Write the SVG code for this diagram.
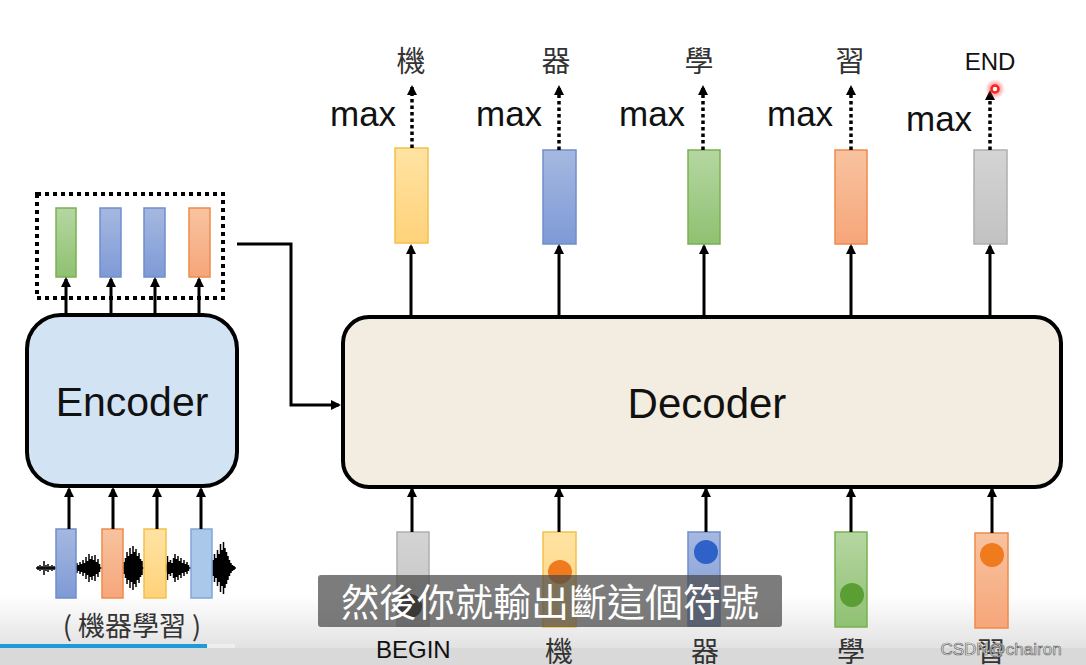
<svg xmlns="http://www.w3.org/2000/svg" width="1086" height="665" viewBox="0 0 1086 665">
<defs>
<style>
.lat{font-family:"Liberation Sans","Noto Sans",Arial,sans-serif;fill:#111}
.cjk{font-family:"Noto Sans CJK TC","Noto Sans CJK SC",sans-serif;fill:#333}
.arr{stroke:#000;stroke-width:3;fill:none;marker-end:url(#ah)}
.dot{stroke:#000;stroke-width:3.5;fill:none;stroke-dasharray:3.5 3;marker-end:url(#ah)}
.y{fill:url(#gy);stroke:#F3C04A;stroke-width:1.5}
.b{fill:url(#gb);stroke:#6F8FCB;stroke-width:1.5}
.lb{fill:#A9C8EA;stroke:#7FA7D9;stroke-width:1.5}
.g{fill:url(#gg);stroke:#78B152;stroke-width:1.5}
.o{fill:url(#go);stroke:#EE8A4E;stroke-width:1.5}
.k{fill:url(#gk);stroke:#AFAFAF;stroke-width:1.5}
</style>
<marker id="ah" viewBox="0 0 10 10" refX="8" refY="5" markerWidth="10" markerHeight="10" markerUnits="userSpaceOnUse" orient="auto">
<path d="M0,0 L10,5 L0,10 z" fill="#000"/>
</marker>
<linearGradient id="gy" x1="0" y1="0" x2="0" y2="1"><stop offset="0" stop-color="#FFE3A3"/><stop offset="1" stop-color="#FFD27A"/></linearGradient>
<linearGradient id="gb" x1="0" y1="0" x2="0" y2="1"><stop offset="0" stop-color="#A6B8E0"/><stop offset="1" stop-color="#7E9AD6"/></linearGradient>
<linearGradient id="gg" x1="0" y1="0" x2="0" y2="1"><stop offset="0" stop-color="#B6D6A2"/><stop offset="1" stop-color="#8FC172"/></linearGradient>
<linearGradient id="go" x1="0" y1="0" x2="0" y2="1"><stop offset="0" stop-color="#F8C3A0"/><stop offset="1" stop-color="#F6A679"/></linearGradient>
<linearGradient id="gk" x1="0" y1="0" x2="0" y2="1"><stop offset="0" stop-color="#D4D4D4"/><stop offset="1" stop-color="#C2C2C2"/></linearGradient>
<linearGradient id="bot" x1="0" y1="0" x2="0" y2="1"><stop offset="0" stop-color="#ffffff"/><stop offset="1" stop-color="#e2e2e2"/></linearGradient>
<radialGradient id="glow"><stop offset="0" stop-color="#ff3030" stop-opacity="0.8"/><stop offset="1" stop-color="#ff3030" stop-opacity="0"/></radialGradient>
</defs>
<rect width="1086" height="665" fill="#fff"/>
<rect x="0" y="595" width="1086" height="53" fill="url(#bot)"/>
<rect x="0" y="648" width="1086" height="17" fill="#d9d9d9"/>
<rect x="0" y="644" width="207" height="4" fill="#1E9BD7"/>
<rect x="207" y="644" width="28" height="4" fill="#eeeeee"/>

<g id="encoder">
<rect x="27" y="315" width="210" height="171" rx="34" fill="#D2E3F4" stroke="#000" stroke-width="4"/>
<text class="lat" x="132" y="416" font-size="41" text-anchor="middle">Encoder</text>
</g>

<g id="encoder-out">
<rect x="37" y="194" width="186" height="104" fill="none" stroke="#000" stroke-width="4" stroke-dasharray="4 4"/>
<rect class="g" x="56" y="208" width="20" height="69"/>
<rect class="b" x="100" y="208" width="21" height="69"/>
<rect class="b" x="144" y="208" width="21" height="69"/>
<rect class="o" x="189" y="208" width="21" height="69"/>
</g>

<g id="audio-input">
<path stroke="#000" stroke-width="1.5" fill="none" d="M38 566V570M40 565V571M42 566V570M44 561V575M46 565V571M48 564V572M50 566V570M52 565V571M54 566V570M77 563V573M78.5 565V571M80 562V574M81.5 564V572M83 560V576M84.5 563V573M86 557V579M87.5 561V575M89 554V582M90.5 559V577M92 556V580M93.5 560V576M95 555V581M96.5 562V574M98 559V577M99.5 564V572M124 562V574M125.5 558V578M127 552V584M128.5 556V580M130 548V588M131.5 554V582M133 546V590M134.5 552V584M136 549V587M137.5 556V580M139 553V583M140.5 559V577M142 561V575M166 564V572M167.5 556V580M169 562V574M170.5 560V576M172 563V573M173.5 558V578M175 554V582M176.5 559V577M178 556V580M179.5 561V575M181 558V578M182.5 563V573M184 560V576M185.5 564V572M187 562V574M188.5 565V571M213 560V576M214.5 554V582M216 558V578M217.5 550V586M219 554V582M220.5 544V592M222 550V586M223.5 542V594M225 548V588M226.5 552V584M228 556V580M229.5 560V576M231 563V573M232.5 565V571M234 566V570M36 568H236"/>
<rect class="b" x="56" y="529" width="20" height="69"/>
<rect class="o" x="102" y="529" width="21" height="69"/>
<rect class="y" x="144" y="529" width="22" height="69"/>
<rect class="lb" x="191" y="529" width="21" height="69"/>
<text class="cjk" x="132" y="636" font-size="27" text-anchor="middle">( 機器學習 )</text>
</g>

<g id="decoder">
<rect x="343" y="317" width="718" height="170" rx="26" fill="#F3ECE0" stroke="#000" stroke-width="4"/>
<text class="lat" x="707" y="418" font-size="42" text-anchor="middle">Decoder</text>
</g>

<g id="decoder-outputs">
<rect class="y" x="395" y="148" width="33" height="95"/>
<rect class="b" x="543" y="150" width="33" height="94"/>
<rect class="g" x="688" y="150" width="32" height="94"/>
<rect class="o" x="835" y="150" width="32" height="94"/>
<rect class="k" x="974" y="150" width="33" height="94"/>
<text class="lat" x="330" y="126" font-size="35">max</text>
<text class="lat" x="476" y="126" font-size="35">max</text>
<text class="lat" x="619" y="126" font-size="35">max</text>
<text class="lat" x="767" y="126" font-size="35">max</text>
<text class="lat" x="906" y="131" font-size="35">max</text>
<text class="cjk" x="411" y="72" font-size="29" text-anchor="middle">機</text>
<text class="cjk" x="556" y="72" font-size="29" text-anchor="middle">器</text>
<text class="cjk" x="699" y="72" font-size="29" text-anchor="middle">學</text>
<text class="cjk" x="850" y="72" font-size="29" text-anchor="middle">習</text>
<text class="lat" x="990" y="70" font-size="24" text-anchor="middle">END</text>
</g>

<g id="decoder-inputs">
<rect class="k" x="397" y="532" width="32" height="94"/>
<circle cx="410" cy="606" r="12" fill="#111"/>
<rect class="y" x="543" y="532" width="33" height="95"/>
<circle cx="560" cy="572" r="12" fill="#F07A1E"/>
<rect class="b" x="688" y="532" width="32" height="94"/>
<circle cx="706" cy="552" r="12" fill="#2F62C9"/>
<rect class="g" x="835" y="532" width="32" height="95"/>
<circle cx="852" cy="595" r="12" fill="#5A9E34"/>
<rect class="o" x="975" y="533" width="33" height="95"/>
<circle cx="992" cy="555" r="12" fill="#F07A1E"/>
<text class="lat" x="376" y="658" font-size="24">BEGIN</text>
<text class="cjk" x="559" y="662" font-size="28" text-anchor="middle">機</text>
<text class="cjk" x="705" y="662" font-size="28" text-anchor="middle">器</text>
<text class="cjk" x="851" y="662" font-size="28" text-anchor="middle">學</text>
<text class="cjk" x="991" y="662" font-size="28" text-anchor="middle">習</text>
</g>

<g id="connectors">
<line class="arr" x1="66" y1="315" x2="66" y2="279"/>
<line class="arr" x1="111" y1="315" x2="111" y2="279"/>
<line class="arr" x1="155" y1="315" x2="155" y2="279"/>
<line class="arr" x1="199" y1="315" x2="199" y2="279"/>
<line class="arr" x1="69" y1="529" x2="69" y2="489"/>
<line class="arr" x1="113" y1="529" x2="113" y2="489"/>
<line class="arr" x1="157" y1="529" x2="157" y2="489"/>
<line class="arr" x1="201" y1="529" x2="201" y2="489"/>
<polyline class="arr" points="237,244 291,244 291,405 339,405"/>
<line class="arr" x1="411" y1="317" x2="411" y2="246"/>
<line class="arr" x1="559" y1="317" x2="559" y2="246"/>
<line class="arr" x1="704" y1="317" x2="704" y2="246"/>
<line class="arr" x1="851" y1="317" x2="851" y2="246"/>
<line class="arr" x1="990" y1="317" x2="990" y2="246"/>
<line class="arr" x1="412" y1="532" x2="412" y2="489"/>
<line class="arr" x1="559" y1="532" x2="559" y2="489"/>
<line class="arr" x1="706" y1="532" x2="706" y2="489"/>
<line class="arr" x1="851" y1="532" x2="851" y2="489"/>
<line class="arr" x1="992" y1="533" x2="992" y2="489"/>
<line class="dot" x1="412" y1="148" x2="412" y2="87"/>
<line class="dot" x1="559" y1="150" x2="559" y2="87"/>
<line class="dot" x1="703" y1="150" x2="703" y2="87"/>
<line class="dot" x1="851" y1="150" x2="851" y2="87"/>
<line class="dot" x1="990" y1="150" x2="990" y2="92"/>
</g>

<g id="overlay">
<circle cx="995" cy="89" r="10" fill="url(#glow)"/>
<circle cx="995" cy="89" r="3.5" fill="#fff" stroke="#ff2020" stroke-width="2.5"/>
<rect x="318" y="575" width="464" height="52" rx="3" fill="#4a4a4a" fill-opacity="0.72"/>
<text x="550" y="616" font-size="38" text-anchor="middle" fill="#fff" font-family="Noto Sans CJK TC, Noto Sans CJK SC, sans-serif">然後你就輸出斷這個符號</text>
<text x="1001" y="655" font-size="17" text-anchor="middle" fill="#f4f4f4" stroke="#6a6a6a" stroke-width="0.7" font-family="Liberation Sans, Arial, sans-serif">CSDN@chairon</text>
</g>
</svg>
